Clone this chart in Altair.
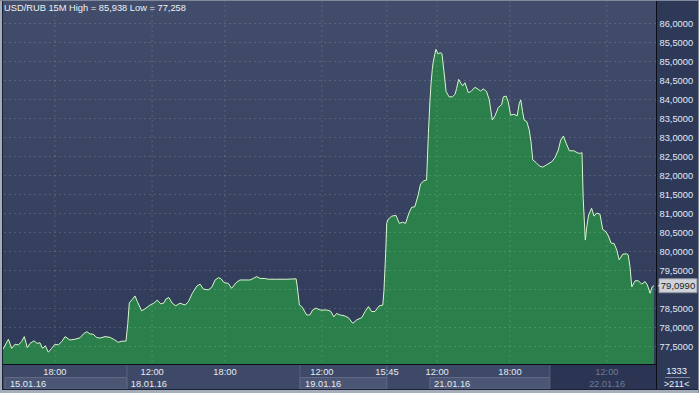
import altair as alt
import pandas as pd

# ---------------- data ----------------
title_text = "USD/RUB 15M High = 85,938 Low = 77,258"

bar = [0, 1.8, 2.9, 4.0, 5.1, 6.2, 7.1, 8.1, 9.0, 10.3,
       11.4, 12.3, 13.2, 14.1, 15.1, 16.2, 17.3, 18.4, 19.6, 20.7,
       22.3, 24.0, 25.7, 26.8, 27.9, 29.0, 30.1, 31.2, 32.3, 34.0,
       35.7, 37.3, 38.4, 39.6, 41.0, 41.6, 42.1, 43.1, 44.0, 44.8,
       46.2, 47.3, 49.0, 50.3, 51.4, 52.6, 53.7, 54.3, 55.3, 56.4,
       57.6, 59.0, 60.7, 61.8, 63.1, 64.6, 65.7, 66.8, 68.4, 69.6,
       70.7, 71.8, 72.6, 73.7, 75.1, 76.2, 77.7, 79.0, 80.7, 82.3,
       83.4, 84.6, 85.7, 87.3, 88.4, 91.2, 94.6, 97.7, 98.1, 98.8,
       99.6, 100.3, 101.2, 102.3, 103.2, 104.3, 105.7, 107.9, 109.2, 110.3,
       111.2, 112.3, 113.7, 115.1, 116.6, 117.9, 119.6, 120.7, 121.8, 122.9,
       124.0, 125.4, 126.6, 127.0, 127.6, 127.9, 128.4, 129.6, 131.0, 132.1,
       133.2, 134.2, 135.3, 136.2, 137.3, 138.4, 139.2, 140.3, 141.2, 141.8,
       142.3, 142.7, 143.1, 143.4, 144.3, 145.0, 145.7, 146.3, 147.0, 147.7,
       148.7, 149.8, 150.7, 151.2, 151.9, 152.6, 153.2, 154.0, 155.1, 156.0,
       157.3, 158.4, 159.2, 160.1, 161.2, 162.1, 163.1, 164.0, 165.1, 166.2,
       166.8, 167.7, 168.4, 169.2, 170.3, 171.4, 172.1, 172.6, 173.2, 173.7,
       174.6, 175.4, 176.0, 176.6, 177.7, 178.8, 179.9, 181.2, 182.9, 184.0,
       185.1, 185.9, 186.8, 187.7, 188.8, 190.3, 191.4, 192.3, 193.0, 193.4,
       194.1, 194.6, 195.2, 196.2, 197.0, 197.9, 199.0, 199.9, 201.0, 201.8,
       202.7, 203.7, 204.6, 205.4, 206.6, 207.9, 208.4, 209.0, 209.6, 210.7,
       211.8, 212.9, 214.0, 214.8, 215.7, 216.4, 217.0]

price = [77.43, 77.69, 77.45, 77.56, 77.54, 77.63, 77.76, 77.47, 77.58, 77.65,
         77.58, 77.60, 77.45, 77.52, 77.35, 77.45, 77.56, 77.54, 77.63, 77.76,
         77.67, 77.69, 77.73, 77.83, 77.89, 77.83, 77.82, 77.74, 77.72, 77.76,
         77.74, 77.67, 77.61, 77.64, 77.64, 78.11, 78.65, 78.74, 78.83, 78.68,
         78.44, 78.49, 78.59, 78.64, 78.72, 78.62, 78.65, 78.75, 78.79, 78.64,
         78.57, 78.64, 78.59, 78.68, 78.90, 79.09, 79.14, 79.01, 78.99, 79.06,
         79.25, 79.31, 79.29, 79.18, 79.16, 79.03, 79.18, 79.25, 79.25, 79.25,
         79.29, 79.34, 79.29, 79.29, 79.27, 79.27, 79.27, 79.28, 79.07, 78.59,
         78.55, 78.46, 78.33, 78.33, 78.46, 78.51, 78.46, 78.46, 78.43, 78.28,
         78.37, 78.33, 78.31, 78.26, 78.11, 78.20, 78.26, 78.42, 78.55, 78.42,
         78.42, 78.57, 78.59, 78.99, 80.04, 80.74, 80.85, 80.93, 80.95, 80.74,
         80.77, 80.74, 81.01, 81.16, 81.18, 81.49, 81.78, 81.86, 81.88, 83.11,
         83.94, 84.43, 84.79, 84.99, 85.32, 85.20, 85.23, 85.21, 84.73, 84.21,
         84.07, 84.07, 84.14, 84.29, 84.53, 84.43, 84.36, 84.44, 84.18, 84.21,
         84.32, 84.27, 84.22, 84.28, 84.21, 83.99, 83.46, 83.57, 83.79, 83.86,
         84.07, 84.09, 83.94, 83.59, 83.61, 83.57, 83.90, 83.99, 83.68, 83.46,
         83.42, 83.20, 82.89, 82.41, 82.34, 82.25, 82.22, 82.28, 82.36, 82.47,
         82.67, 82.93, 83.04, 82.85, 82.65, 82.65, 82.60, 82.58, 82.60, 81.40,
         80.30, 80.65, 80.96, 81.14, 80.93, 81.01, 80.98, 80.58, 80.52, 80.41,
         80.22, 80.21, 80.04, 79.78, 79.93, 79.94, 79.91, 79.60, 79.07, 79.23,
         79.23, 79.14, 79.21, 79.12, 78.90, 79.07, 79.10]

y_ticks = [77.5, 78.0, 78.5, 79.0, 79.5, 80.0, 80.5, 81.0, 81.5,
           82.0, 82.5, 83.0, 83.5, 84.0, 84.5, 85.0, 85.5, 86.0]

time_pos = [17.3, 49.7, 74.0, 106.3, 128.0, 144.7, 169.0, 201.3]
time_lab = ["18:00", "12:00", "18:00", "12:00", "15:45", "12:00", "18:00", "12:00"]
time_dim = [0, 0, 0, 0, 0, 0, 0, 1]

seg_start = [0.7, 41.3, 99.0, 127.9, 142.3, 182.3]
seg_end = [41.3, 99.0, 127.9, 142.3, 182.3, 217.67]
seg_kind = ["box", "plain", "box", "plain", "box", "dim"]
date_pos = [2.3, 42.6, 100.7, 143.7, 195.3]
date_lab = ["15.01.16", "18.01.16", "19.01.16", "21.01.16", "22.01.16"]
date_dim = [0, 0, 0, 0, 1]

last_price = 79.099
last_label = "79,0990"
corner_top = "1333"
corner_bottom = ">211<"

# ---------------- chart ----------------
FONT = "Liberation Sans"
FS = 9.3
W, H = 653, 364
xs = alt.Scale(domain=[0, 217.67], nice=False, zero=False)
ys = alt.Scale(domain=[77.039, 86.618], nice=False, zero=False)
# the price tag covers the axis label nearest to the last price
label_ticks = [t for t in y_ticks if abs(t - last_price) > 0.2]
yaxis = alt.Axis(orient="right", values=label_ticks,
                 labelExpr="replace(format(datum.value, '.4f'), '.', ',')",
                 ticks=False, domain=False, grid=False, title=None,
                 labelColor="#e2e9f6", labelFontSize=FS, labelFont=FONT,
                 labelPadding=3, labelBaseline="middle")

one = pd.DataFrame({"a": [0]})
df = pd.DataFrame({"bar": bar, "price": price})
tdf = pd.DataFrame({"pos": time_pos, "lab": time_lab, "dim": time_dim})
sdf = pd.DataFrame({"s": seg_start, "e": seg_end, "k": seg_kind})
ddf = pd.DataFrame({"pos": date_pos, "lab": date_lab, "dim": date_dim})
pdf = pd.DataFrame({"v": [last_price], "lab": [last_label]})

bg = alt.Chart(one).mark_rect(
    color=alt.Gradient(gradient="linear",
                       stops=[alt.GradientStop(color="#414d6a", offset=0),
                              alt.GradientStop(color="#2f3a58", offset=1)],
                       x1=0, x2=0, y1=0, y2=1)
).encode(x=alt.value(0), x2=alt.value(W), y=alt.value(0), y2=alt.value(H))

area = alt.Chart(df).mark_area(
    color="#2b7f4a", opacity=1, fillOpacity=1, clip=True, interpolate="linear",
    line={"color": "#d8f6cc", "strokeWidth": 1}
).encode(x=alt.X("bar:Q", scale=xs, axis=None),
         y=alt.Y("price:Q", scale=ys, axis=yaxis))

hgrid = alt.Chart(pd.DataFrame({"v": y_ticks})).mark_rule(
    color="#ffffff", opacity=0.15, strokeDash=[2, 3], strokeWidth=1
).encode(y=alt.Y("v:Q", scale=ys, axis=yaxis))

vgrid = alt.Chart(tdf).mark_rule(
    color="#ffffff", opacity=0.15, strokeDash=[2, 3], strokeWidth=1
).encode(x=alt.X("pos:Q", scale=xs, axis=None))

title = alt.Chart(one).mark_text(
    text=title_text, font=FONT, fontSize=FS, color="#eef1f6",
    align="left", baseline="middle"
).encode(x=alt.value(1), y=alt.value(8))

strip = alt.Chart(one).mark_rect(color="#3d4966").encode(
    x=alt.value(0), x2=alt.value(W), y=alt.value(365), y2=alt.value(389))

boxes = alt.Chart(sdf).transform_filter(alt.datum.k == "box").mark_rect(
    fill="#4a5674", stroke="#5e6a86", strokeWidth=1
).encode(x=alt.X("s:Q", scale=xs, axis=None), x2="e:Q",
         y=alt.value(377.5), y2=alt.value(389))

dimreg = alt.Chart(sdf).transform_filter(alt.datum.k == "dim").mark_rect(
    fill="#2b3452"
).encode(x=alt.X("s:Q", scale=xs, axis=None), x2="e:Q",
         y=alt.value(365), y2=alt.value(389))

seps = alt.Chart(sdf).transform_filter(
    (alt.datum.k != "box") | (alt.datum.s > 1)
).transform_filter(alt.datum.s != 142.3).mark_rule(
    color="#58647f", strokeWidth=1
).encode(x=alt.X("s:Q", scale=xs, axis=None),
         y=alt.value(365), y2=alt.value(389))

tlabels = alt.Chart(tdf).mark_text(
    font=FONT, fontSize=FS, align="center", baseline="middle"
).encode(x=alt.X("pos:Q", scale=xs, axis=None), y=alt.value(371.5),
         text="lab:N",
         color=alt.condition(alt.datum.dim == 1, alt.value("#6f7a92"), alt.value("#e6ebf3")))

dlabels = alt.Chart(ddf).mark_text(
    font=FONT, fontSize=FS, align="left", baseline="middle"
).encode(x=alt.X("pos:Q", scale=xs, axis=None), y=alt.value(384),
         text="lab:N",
         color=alt.condition(alt.datum.dim == 1, alt.value("#6f7a92"), alt.value("#e6ebf3")))

hline = alt.Chart(one).mark_rule(color="#0b0e16", strokeWidth=1).encode(
    x=alt.value(-3), x2=alt.value(W + 1), y=alt.value(364.5))
vline = alt.Chart(one).mark_rule(color="#0b0e16", strokeWidth=1).encode(
    x=alt.value(W + 0.5), y=alt.value(0), y2=alt.value(390))

tag_box = alt.Chart(pdf).mark_rect(
    fill="#cfd2d8", stroke="#8d939e", strokeWidth=1, yOffset=-7, y2Offset=7
).encode(x=alt.value(656), x2=alt.value(694),
         y=alt.Y("v:Q", scale=ys, axis=yaxis), y2="v:Q")
tag_arrow = alt.Chart(pdf).mark_point(
    shape="triangle-left", filled=True, fill="#cfd2d8", size=50, opacity=1, strokeWidth=0
).encode(x=alt.value(657.5), y=alt.Y("v:Q", scale=ys, axis=yaxis))
tag_text = alt.Chart(pdf).mark_text(
    font=FONT, fontSize=FS + 0.2, color="#1a1d24", align="center", baseline="middle"
).encode(x=alt.value(675), y=alt.Y("v:Q", scale=ys, axis=yaxis), text="lab:N")

corner1 = alt.Chart(one).mark_text(
    text=corner_top, font=FONT, fontSize=FS, color="#eef1f6", align="center", baseline="middle"
).encode(x=alt.value(673.5), y=alt.value(371))
corner2 = alt.Chart(one).mark_text(
    text=corner_bottom, font=FONT, fontSize=FS, color="#eef1f6", align="center", baseline="middle"
).encode(x=alt.value(673.5), y=alt.value(384))
corner_rule = alt.Chart(one).mark_rule(color="#7d889e", strokeWidth=1).encode(
    x=alt.value(662), x2=alt.value(687), y=alt.value(377.5))

frame_left = alt.Chart(one).mark_rect(color="#a5acba").encode(
    x=alt.value(-3), x2=alt.value(-1), y=alt.value(0), y2=alt.value(393))
frame_left_dark = alt.Chart(one).mark_rule(color="#1c2236").encode(
    x=alt.value(-0.5), y=alt.value(0), y2=alt.value(390))
frame_bottom = alt.Chart(one).mark_rect(color="#a5acba").encode(
    x=alt.value(-3), x2=alt.value(696), y=alt.value(390), y2=alt.value(393))
frame_bottom_dark = alt.Chart(one).mark_rule(color="#1c2236").encode(
    x=alt.value(-1), x2=alt.value(696), y=alt.value(389.5))
frame_top = alt.Chart(one).mark_rule(color="#7f889c").encode(
    x=alt.value(-3), x2=alt.value(696), y=alt.value(0.5))
frame_right = alt.Chart(one).mark_rule(color="#7f889c").encode(
    x=alt.value(695.5), y=alt.value(0), y2=alt.value(393))

chart = alt.layer(
    bg, area, hgrid, vgrid, title,
    strip, boxes, dimreg, seps, tlabels, dlabels,
    hline, vline, tag_box, tag_arrow, tag_text,
    corner1, corner2, corner_rule,
    frame_left, frame_left_dark, frame_bottom, frame_bottom_dark, frame_top, frame_right
).properties(
    width=W, height=H,
    padding={"left": 3, "top": 0, "right": 43, "bottom": 29},
    autosize=alt.AutoSizeParams(type="none"),
    background="#2e3958"
).configure_view(stroke=None)

chart.save("out.html", embed_options={"renderer": "svg", "actions": False})
